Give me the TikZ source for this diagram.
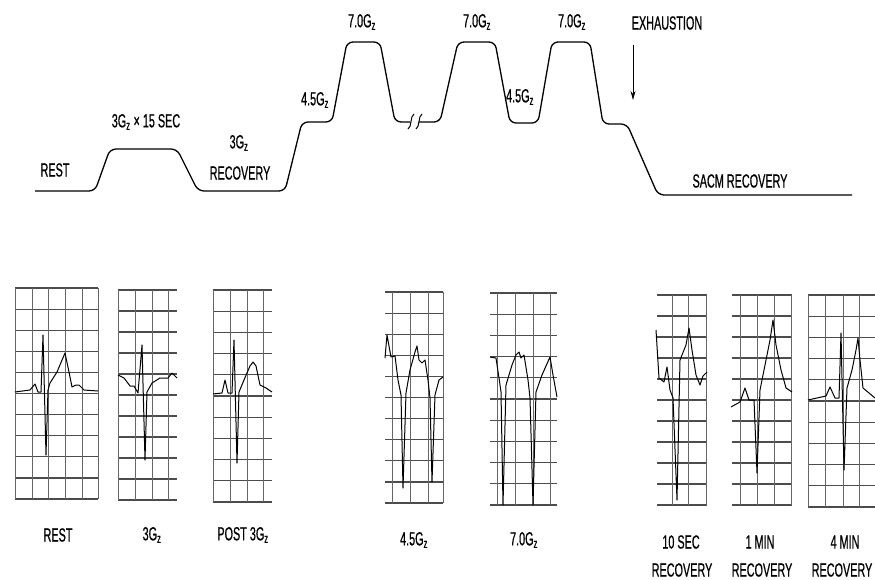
\documentclass[tikz,border=0pt]{standalone}
\usepackage{fontspec}
\newfontfamily\lblfont{Liberation Sans}[FakeStretch=0.57, FakeBold=0.6]
\usetikzlibrary{arrows.meta}

\newcommand{\gz}[1]{#1G\textsubscript{z}}
% grid of one ECG strip: left, right, top, bottom, vertical lines
\newcommand{\ecggrid}[5]{%
  \foreach \k in {0,...,10} { \draw[hgrid] (#1,{#3+\k*(#4-#3)/10}) -- (#2,{#3+\k*(#4-#3)/10}); }
  \foreach \v in {#5} { \draw[vgrid] (\v,#3) -- (\v,#4); }}

\begin{document}
\begin{tikzpicture}[x=1pt, y=-1pt, line width=1pt,
  lbl/.style={font=\lblfont\fontsize{19}{21}\selectfont, inner sep=1pt},
  hgrid/.style={line width=1.2pt, black!70},
  vgrid/.style={line width=0.8pt, black!60},
  ecg/.style={line width=1pt, line join=round}]
  \useasboundingbox (0,0) rectangle (875,580);

  % G profile
  \draw[line width=1.3pt, rounded corners=6pt] (35,191) -- (95,191) -- (110,149) -- (177,149) -- (198,191)
    -- (285,191) -- (302,122) -- (332,122) -- (347,42) -- (380,42) -- (395,122) -- (410,122);
  \draw[line width=1pt] (408,129) .. controls (412,127) and (410,116) .. (414,114);
  \draw[line width=1pt] (416,129) .. controls (420,127) and (418,116) .. (422,114);
  \draw[line width=1.3pt, rounded corners=6pt] (419,122) -- (440,122) -- (458,42) -- (495,42) -- (510,123)
    -- (538,123) -- (552,42) -- (590,42) -- (603,124) -- (627,124) -- (658,195) -- (852,195);

  \node[lbl] (rest) at (55,170) {REST};
  \node[lbl] (threesec) at (146,122) {\gz{3} × 15 SEC};
  \node[lbl] (threeg) at (239,143) {\gz{3}};
  \node[lbl] (threerec) at (240,173) {RECOVERY};
  \node[lbl] (fourfive) at (315,100) {\gz{4.5}};
  \node[lbl] (sevenA) at (362,22) {\gz{7.0}};
  \node[lbl] (sevenB) at (477,22) {\gz{7.0}};
  \node[lbl] (fourfiveB) at (520,97) {\gz{4.5}};
  \node[lbl] (sevenC) at (572,22) {\gz{7.0}};
  \node[lbl] (exhaust) at (667,23) {EXHAUSTION};
  \coordinate (exhtip) at (633,100);
  \draw[line width=0.8pt, -{Stealth[length=9pt, width=5pt]}] (633,45) -- (exhtip);
  \node[lbl] (sacm) at (740,181) {SACM RECOVERY};

  % ECG strips
  \ecggrid{15}{98}{288}{499}{15,32,48,65,82,98}
  \draw[ecg] (15,392) -- (30,390) -- (35,384) -- (38,392) -- (41,392) -- (43,335) -- (46,455) -- (48,390)
    -- (50,383) -- (57,372) -- (65,353) -- (69,372) -- (72,387) -- (76,385) -- (79,385) -- (84,390) -- (98,391);
  \ecggrid{118}{177}{290}{500}{118,135,152,168}
  \draw[ecg] (118,375) -- (124,378) -- (130,386) -- (134,386) -- (138,393) -- (142,345) -- (145,460) -- (147,392)
    -- (152,383) -- (160,378) -- (168,378) -- (172,373) -- (177,378);
  \ecggrid{213}{272}{290}{502}{213,230,247,263}
  \draw[ecg] (213,394) -- (222,393) -- (225,380) -- (228,393) -- (232,393) -- (234,340) -- (237,463) -- (239,392)
    -- (244,380) -- (250,366) -- (253,362) -- (256,366) -- (260,385) -- (266,388) -- (272,392);
  \ecggrid{385}{443}{292}{503}{392,410,428,443}
  \draw[ecg] (385,358) -- (387,335) -- (391,357) -- (395,356) -- (398,380) -- (401,395) -- (403,488) -- (406,393)
    -- (410,370) -- (415,352) -- (417,346) -- (419,360) -- (422,363) -- (425,360) -- (428,380) -- (430,398)
    -- (432,482) -- (435,395) -- (439,380) -- (443,377);
  \ecggrid{490}{557}{293}{505}{497,515,533,550}
  \draw[ecg] (490,357) -- (496,358) -- (499,378) -- (501,392) -- (503,505) -- (506,385) -- (512,365) -- (516,355)
    -- (519,352) -- (521,358) -- (524,355) -- (528,380) -- (530,398) -- (533,505) -- (536,392) -- (542,375)
    -- (550,357) -- (553,375) -- (557,397);
  \ecggrid{657}{707}{295}{505}{672,688,706}
  \draw[ecg] (656,330) -- (659,378) -- (664,382) -- (667,367) -- (670,390) -- (673,398) -- (677,500) -- (680,360)
    -- (686,345) -- (689,328) -- (692,350) -- (696,375) -- (700,385) -- (703,376) -- (707,372);
  \ecggrid{732}{792}{295}{505}{740,757,774,791}
  \draw[ecg] (731,407) -- (740,402) -- (745,388) -- (749,400) -- (754,400) -- (757,473) -- (760,390) -- (766,360)
    -- (770,340) -- (773,320) -- (776,345) -- (781,370) -- (786,388) -- (792,392);
  \ecggrid{808}{875}{295}{507}{808,825,843,859,875}
  \draw[ecg] (808,400) -- (826,396) -- (830,387) -- (835,398) -- (839,398) -- (841,333) -- (844,470) -- (847,388)
    -- (852,370) -- (856,350) -- (858,338) -- (860,360) -- (863,388) -- (875,398);

  \node[lbl] (restecg) at (58,535) {REST};
  \node[lbl] (threeecg) at (152,535) {\gz{3}};
  \node[lbl] (postecg) at (243,535) {POST \gz{3}};
  \node[lbl] (fourecg) at (414,540) {\gz{4.5}};
  \node[lbl] (sevenecg) at (524,540) {\gz{7.0}};
  \node[lbl] (tensec) at (681,542) {10 SEC};
  \node[lbl] (tenrec) at (682,570) {RECOVERY};
  \node[lbl] (onemin) at (760,542) {1 MIN};
  \node[lbl] (onerec) at (762,570) {RECOVERY};
  \node[lbl] (fourmin) at (845,542) {4 MIN};
  \node[lbl] (fourrec) at (842,570) {RECOVERY};
\end{tikzpicture}
\end{document}
